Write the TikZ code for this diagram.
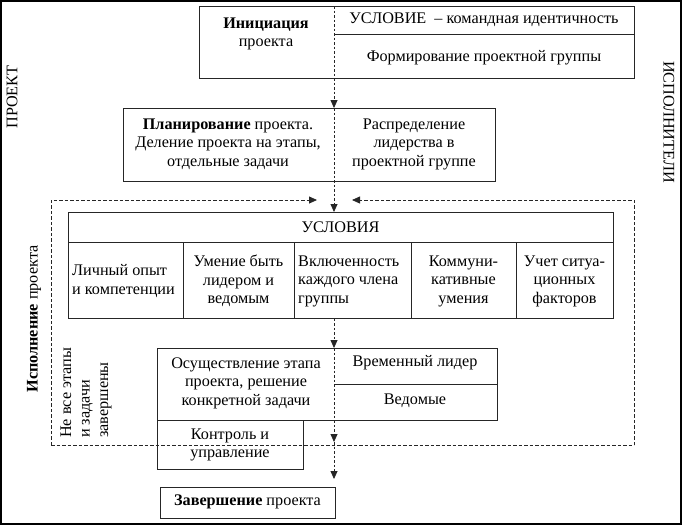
\documentclass[tikz,border=0pt]{standalone}
\usepackage{fontspec}
\setmainfont{Liberation Serif}
\usetikzlibrary{arrows.meta}
\begin{document}
\begin{tikzpicture}[x=1pt,y=-1pt,
  box/.style={draw=black!85, line width=0.8pt, inner sep=0pt, anchor=north west},
  txt/.style={font=\fontsize{16.2}{18.5}\selectfont, inner sep=0pt, align=center},
  conn/.style={draw=black!85, line width=0.8pt, dash pattern=on 2.5pt off 2pt, -{Triangle[length=8pt,width=7pt]}},
  loopline/.style={draw=black!85, line width=0.8pt, dash pattern=on 3.5pt off 2pt},
  looparrow/.style={loopline, -{Triangle[length=8pt,width=7pt]}},
]
\useasboundingbox (0,0) rectangle (682,525);
\draw[line width=1.6pt] (0.8,0.8) rectangle (681.2,524.2);

% boxes
\node[box, minimum width=435pt, minimum height=72pt] (init) at (199,6) {};
\coordinate (condL) at (334,34);
\draw[draw=black!85, line width=0.8pt] (condL) -- (condL -| init.east);
\node[box, minimum width=372pt, minimum height=73pt] (plan) at (123,108) {};
\node[box, minimum width=545pt, minimum height=30pt] (usl) at (68,212) {};
\node[box, minimum width=115pt, minimum height=76pt] (c1) at (68,242) {};
\node[box, minimum width=111pt, minimum height=76pt] (c2) at (183,242) {};
\node[box, minimum width=117pt, minimum height=76pt] (c3) at (294,242) {};
\node[box, minimum width=105pt, minimum height=76pt] (c4) at (411,242) {};
\node[box, minimum width=97pt, minimum height=76pt] (c5) at (516,242) {};
\node[box, minimum width=340pt, minimum height=72pt] (exec) at (157,348) {};
\coordinate (leadL) at (334,384);
\draw[draw=black!85, line width=0.8pt] (leadL) -- (leadL -| exec.east);
\node[box, minimum width=146pt, minimum height=49pt] (ctrl) at (157,420) {};
\node[box, minimum width=175pt, minimum height=31pt] (fin) at (160,487) {};

% texts
\node[txt] (tinit) at (266,34) {\textbf{Инициация}\\проекта};
\node[txt] (tcond) at (484,20) {УСЛОВИЕ~ – командная идентичность};
\node[txt] (tform) at (484,58) {Формирование проектной группы};
\node[txt] (tplan) at (228,144) {\textbf{Планирование} проекта.\\Деление проекта на этапы,\\отдельные задачи};
\node[txt] (tdist) at (414,144) {Распределение\\лидерства в\\проектной группе};
\node[txt] (tusl) at (340.5,227) {УСЛОВИЯ};
\node[txt, align=left, anchor=west] (t1) at (72,281) {Личный опыт\\и компетенции};
\node[txt] (t2) at (238.5,281) {Умение быть\\лидером и\\ведомым};
\node[txt, align=left, anchor=west] (t3) at (298,281) {Включенность\\каждого члена\\группы};
\node[txt] (t4) at (463.5,281) {Коммуни-\\кативные\\умения};
\node[txt] (t5) at (564.5,281) {Учет ситуа-\\ционных\\факторов};
\node[txt] (texec) at (246,383) {Осуществление этапа\\проекта, решение\\конкретной задачи};
\node[txt] (tlead) at (415,363) {Временный лидер};
\node[txt] (tfol) at (415,401) {Ведомые};
\node[txt] (tctrl) at (230,445) {Контроль и\\управление};
\node[txt] (tfin) at (247.5,502) {\textbf{Завершение} проекта};

\node[txt, rotate=90] (lproj) at (12,97) {ПРОЕКТ};
\node[txt, rotate=-90] (lisp) at (669,122) {ИСПОЛНИТЕЛИ};
\node[txt, rotate=90] (lexec) at (34,319) {\textbf{Исполнение} проекта};
\node[txt, rotate=90, anchor=west, align=left] (lnot) at (86,438) {Не все этапы\\и задачи\\завершены};

% dashed loop
\coordinate (lb) at (51,445);
\coordinate (lt) at (51,200);
\coordinate (la) at (317,200);
\coordinate (rb) at (634,445);
\coordinate (rt) at (634,200);
\coordinate (ra) at (352,200);
\draw[looparrow] (lb) -- (lt) -- (la);
\draw[looparrow] (rb) -- (rt) -- (ra);
\draw[loopline] (lb) -- (rb);

% main axis
\coordinate (ax) at (334,6);
\coordinate (mid) at (334,442);
\coordinate (endc) at (334,479);
\draw[conn] (ax) -- (ax |- plan.north);
\draw[conn] (ax |- plan.north) -- (ax |- usl.north);
\draw[conn] (ax |- c3.south) -- (ax |- exec.north);
\draw[conn] (ax |- exec.north) -- (mid);
\draw[conn] (mid) -- (endc);
\end{tikzpicture}
\end{document}
